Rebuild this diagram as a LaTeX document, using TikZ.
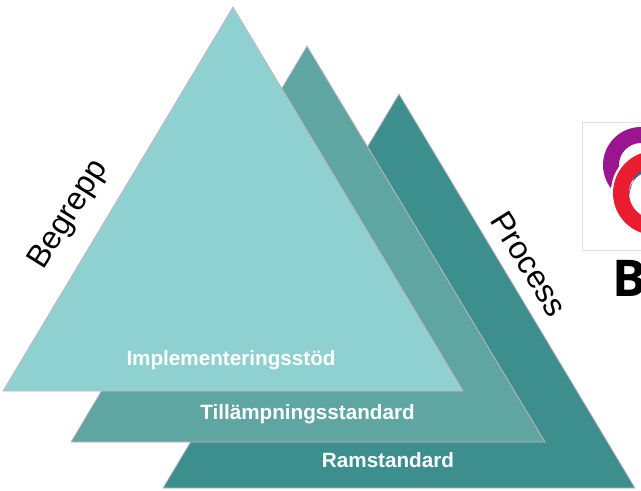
\documentclass[tikz,border=0pt]{standalone}
\usepackage{fontspec}
\setmainfont{Liberation Sans}
\newfontfamily\logofont{Open Sans}
\definecolor{tone}{HTML}{8FD0D0}
\definecolor{ttwo}{HTML}{5FA5A2}
\definecolor{tthree}{HTML}{3C8F8D}
\definecolor{edgeline}{HTML}{C8B4C0}
\definecolor{ringpurple}{HTML}{9C1590}
\definecolor{ringred}{HTML}{EA1C30}
\definecolor{ringblue}{HTML}{1A6EA8}
\tikzset{
  tri/.style={draw=edgeline,line width=0.6pt,line join=miter},
  layerlabel/.style={text=white,font=\bfseries\fontsize{15.5pt}{18pt}\selectfont,inner sep=0pt},
  sidelabel/.style={text=black,font=\fontsize{24pt}{28pt}\selectfont,inner sep=0pt},
}
\begin{document}
\begin{tikzpicture}[x=0.75pt,y=-0.75pt]
\useasboundingbox (0,0) rectangle (641,491);
\begin{scope}
\clip (0,0) rectangle (641,491);
% logo
\draw[draw=black!12,fill=white,line width=0.4pt] (582,122) rectangle (660,250);
\fill[ringpurple,even odd rule] (641,165) circle[radius=38] (641,165) circle[radius=22];
\fill[white] (655,192) circle[radius=44];
\fill[ringblue] (629,195) arc[start angle=180,end angle=240,radius=24] -- ++(0,-9) arc[start angle=235,end angle=190,radius=16] -- cycle;
\fill[ringred,even odd rule] (655,193) circle[radius=42] (655,193) circle[radius=26];
\node[font=\logofont\bfseries\fontsize{38pt}{40pt}\selectfont,anchor=base west,inner sep=0pt] (logob) at (612,296) {B};
\end{scope}
% triangles
\fill[tthree,tri] (399,94) -- (635,488) -- (163,488) -- cycle;
\fill[ttwo,tri] (307,46) -- (545,442) -- (71,442) -- cycle;
\fill[tone,tri] (233,7) -- (463,391) -- (3,391) -- cycle;
% labels
\node[layerlabel] (impl) at (231,360) {Implementeringsstöd};
\node[layerlabel] (till) at (307.5,414) {Tillämpningsstandard};
\node[layerlabel] (ram) at (388,460) {Ramstandard};
\node[sidelabel,rotate=58] (begrepp) at (69,215) {Begrepp};
\node[sidelabel,rotate=-58] (process) at (529,264) {Process};
\end{tikzpicture}
\end{document}
